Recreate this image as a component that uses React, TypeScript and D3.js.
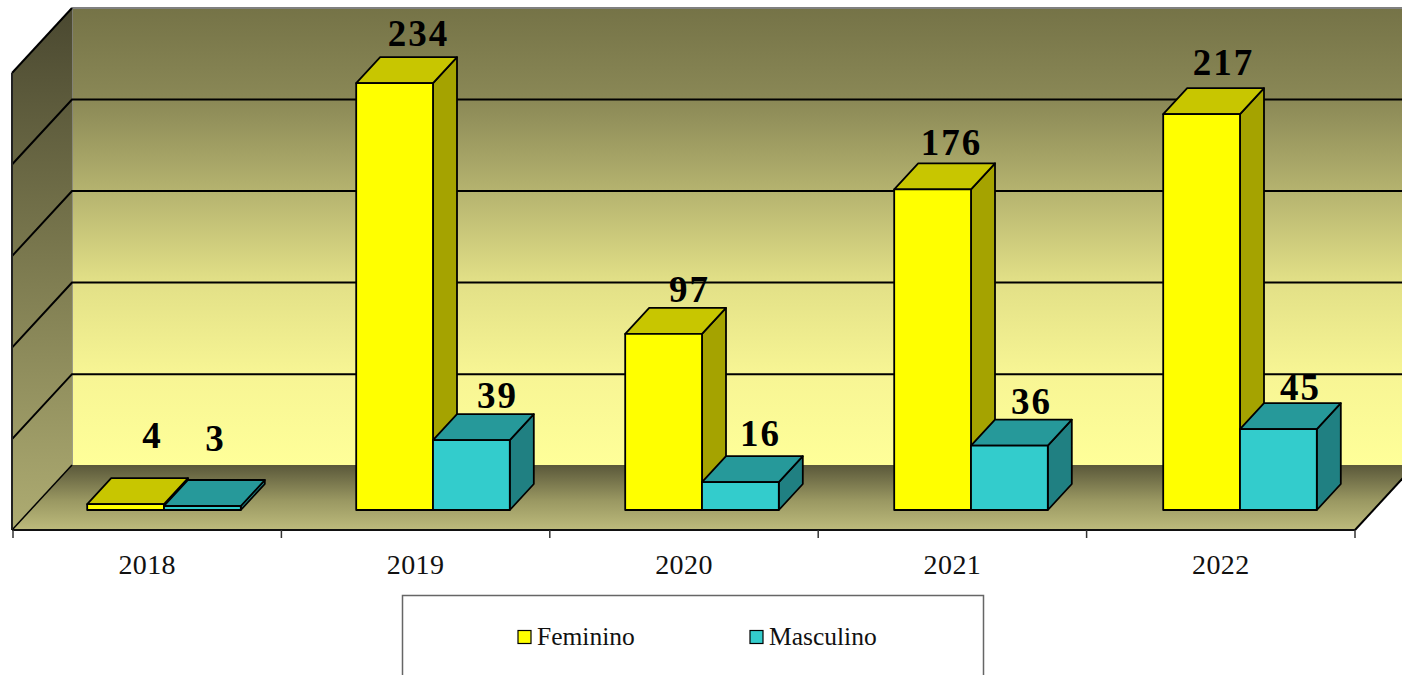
import React from 'react'
import * as d3 from 'd3'

const years = ['2018', '2019', '2020', '2021', '2022']
const feminino = [4, 234, 97, 176, 217]
const masculino = [3, 39, 16, 36, 45]
const yTicks = [0, 50, 100, 150, 200, 250]

const seriesNames = ['Feminino', 'Masculino']
const seriesValues = [feminino, masculino]
const seriesFaces = [
  { front: '#ffff00', top: '#c8c600', side: '#a5a300' },
  { front: '#33cccc', top: '#26999a', side: '#208082' },
]
// hand nudges for the value labels, the original chart placed them unevenly
const labelNudges = [
  [[3, -30], [0, -11], [2, -6], [-5, -8], [-2, -13]],
  [[-11, -29], [2, -6], [-4, -10], [-2, -6], [-2, -3]],
]

const width = 1402
const height = 675
const serif = '"Liberation Serif", serif'

// plot box
const left = 12
const right = 1355
const floorFront = 530
const wallDx = 60
const wallDy = 65
const barDx = 24
const barDy = 26
const barInsetY = 20
const barInsetX = 18.5
const barWidth = 76.8

const x = d3.scaleBand<string>().domain(years).range([left + 1, right])
// the bars sit on a slightly wider spacing than the axis ticks
const barX = d3.scaleBand<string>().domain(years).range([left - 1, right + 1])
const y = d3.scaleLinear().domain([0, 250]).range([floorFront - wallDy + 0.7, 8])
const inner = d3
  .scaleBand<string>()
  .domain(seriesNames)
  .range([-barWidth, barWidth])

const poly = (pts: number[][]) => d3.line()(pts as [number, number][]) + 'Z'

const barBase = floorFront - barInsetY
const barLeft = (year: string, s: number) =>
  barX(year)! + barX.bandwidth() / 2 + barInsetX + inner(seriesNames[s])!
const barTop = (value: number) => barBase - (y(0) - y(value)) + 1.5

function Bar({ year, s, value }: { year: string; s: number; value: number }) {
  const x0 = barLeft(year, s)
  const x1 = x0 + barWidth
  const top = barTop(value)
  const faces = seriesFaces[s]
  return (
    <g stroke="#000" strokeWidth={1.8} strokeLinejoin="round">
      <path
        d={poly([[x1, top], [x1 + barDx, top - barDy], [x1 + barDx, barBase - barDy], [x1, barBase]])}
        fill={faces.side}
      />
      <path
        d={poly([[x0, top], [x0 + barDx, top - barDy], [x1 + barDx, top - barDy], [x1, top]])}
        fill={faces.top}
      />
      <rect x={x0} y={top} width={barWidth} height={barBase - top} fill={faces.front} />
    </g>
  )
}

function BarLabel({ year, s, value, i }: { year: string; s: number; value: number; i: number }) {
  const [nx, ny] = labelNudges[s][i]
  return (
    <text
      x={barLeft(year, s) + barWidth / 2 + barDx + nx}
      y={barTop(value) - barDy + ny}
      textAnchor="middle"
      fontFamily={serif}
      fontWeight="bold"
      fontSize={37}
      letterSpacing={2}
      fill="#000"
    >
      {value}
    </text>
  )
}

export default function App() {
  const backLeft = left + wallDx
  const backFloor = floorFront - wallDy
  const backTop = y(250)
  return (
    <svg
      width={width}
      height={height}
      style={{ position: 'absolute', left: 0, top: 0, display: 'block', background: '#fff' }}
    >
      <defs>
        <linearGradient id="wall" x1="0" y1="0" x2="0" y2="1">
          <stop offset="0" stopColor="#757347" />
          <stop offset="0.2" stopColor="#8a8856" />
          <stop offset="0.4" stopColor="#b5b36f" />
          <stop offset="0.6" stopColor="#e2e087" />
          <stop offset="0.8" stopColor="#f7f594" />
          <stop offset="1" stopColor="#ffff99" />
        </linearGradient>
        <linearGradient id="side" x1="0" y1="0" x2="0" y2="1">
          <stop offset="0" stopColor="#4a4830" />
          <stop offset="0.5" stopColor="#7d7b50" />
          <stop offset="1" stopColor="#aeac72" />
        </linearGradient>
        <linearGradient id="floor" x1="0" y1="0" x2="0" y2="1">
          <stop offset="0" stopColor="#5a583a" />
          <stop offset="0.55" stopColor="#9a9862" />
          <stop offset="1" stopColor="#bdbb7c" />
        </linearGradient>
      </defs>

      {/* back wall */}
      <rect x={backLeft} y={backTop} width={width - backLeft} height={backFloor - backTop} fill="url(#wall)" />
      <line x1={backLeft} x2={width} y1={backTop} y2={backTop} stroke="#808080" strokeWidth={2} />
      <line x1={backLeft} x2={backLeft} y1={backTop} y2={backFloor} stroke="#808080" strokeWidth={1.5} />

      {/* side wall */}
      <path
        d={poly([[left, backTop + wallDy], [backLeft, backTop], [backLeft, backFloor], [left, floorFront]])}
        fill="url(#side)"
      />

      {/* floor */}
      <path
        d={poly([[left, floorFront], [backLeft, backFloor], [right + wallDx, backFloor], [right, floorFront]])}
        fill="url(#floor)"
      />

      {/* grid */}
      {yTicks.slice(1, -1).map(t => (
        <path
          key={t}
          d={d3.line()([[left, y(t) + wallDy], [backLeft, y(t)], [width, y(t)]])!}
          fill="none"
          stroke="#000"
          strokeWidth={2}
        />
      ))}
      <line x1={left} x2={backLeft} y1={floorFront} y2={backFloor} stroke="#000" strokeWidth={1.5} />
      <line x1={left} x2={backLeft} y1={backTop + wallDy} y2={backTop} stroke="#000" strokeWidth={2} />
      <line x1={right} x2={right + wallDx} y1={floorFront} y2={backFloor} stroke="#000" strokeWidth={2} />

      {/* axes */}
      <line x1={left} x2={left} y1={backTop + wallDy} y2={floorFront} stroke="#222" strokeWidth={2} />
      <line x1={left} x2={right} y1={floorFront} y2={floorFront} stroke="#111" strokeWidth={2} />
      {[...years.map(d => x(d)!), right].map(t => (
        <line key={t} x1={t} x2={t} y1={floorFront} y2={floorFront + 8} stroke="#333" strokeWidth={1.5} />
      ))}
      {years.map(d => (
        <text
          key={d}
          x={x(d)! + x.bandwidth() / 2}
          y={574}
          textAnchor="middle"
          fontFamily={serif}
          fontSize={28}
          letterSpacing={0.4}
          fill="#111"
        >
          {d}
        </text>
      ))}

      {/* bars, left to right so the front ones overlap */}
      {years.map((d, i) => (
        <g key={d}>
          {seriesValues.map((vals, s) => (
            <Bar key={s} year={d} s={s} value={vals[i]} />
          ))}
        </g>
      ))}
      {years.map((d, i) =>
        seriesValues.map((vals, s) => (
          <BarLabel key={d + s} year={d} s={s} value={vals[i]} i={i} />
        ))
      )}

      {/* legend, the box runs off the bottom of the picture */}
      <path d="M402.5,676V595.5H983.5V676" fill="#fff" stroke="#666" strokeWidth={1.5} />
      {seriesNames.map((name, s) => {
        const lx = s === 0 ? 518 : 750
        return (
          <g key={name}>
            <rect x={lx} y={630.5} width={13} height={13} fill={seriesFaces[s].front} stroke="#000" strokeWidth={1.2} />
            <text x={lx + 19} y={645} fontFamily={serif} fontSize={25.5} fill="#111">
              {name}
            </text>
          </g>
        )
      })}
    </svg>
  )
}
